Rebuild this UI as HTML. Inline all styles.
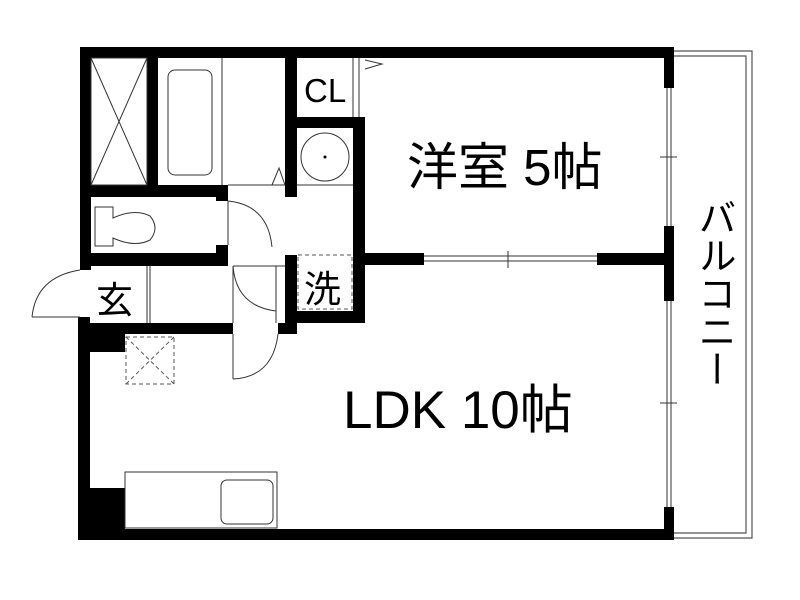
<!DOCTYPE html>
<html><head><meta charset="utf-8"><style>
html,body{margin:0;padding:0;background:#fff;}
svg{display:block}
text{font-family:"Liberation Sans","Noto Sans CJK JP",sans-serif;fill:#000}
</style></head><body>
<svg width="800" height="600" viewBox="0 0 800 600" xmlns="http://www.w3.org/2000/svg">
<path d="M674 51 H752 V538 H674" fill="none" stroke="#555" stroke-width="1.2"/>
<path d="M674 56 H746 V533 H674" fill="none" stroke="#555" stroke-width="1.2"/>
<g fill="#000">
<rect x="80" y="47" width="594" height="11"/>
<rect x="80" y="47" width="11" height="223"/>
<rect x="78" y="317" width="12" height="223"/>
<rect x="78" y="529" width="596" height="11"/>
<rect x="664" y="47" width="10" height="41"/>
<rect x="664" y="226" width="10" height="75"/>
<rect x="664" y="507" width="10" height="33"/>
<rect x="285" y="47" width="12" height="150"/>
<rect x="297" y="117" width="68" height="11"/>
<rect x="353" y="117" width="12" height="206"/>
<rect x="365" y="253" width="59" height="12"/>
<rect x="597" y="253" width="67" height="12"/>
<rect x="147" y="58" width="11" height="127"/>
<rect x="80" y="185" width="148" height="12"/>
<rect x="216" y="185" width="12" height="16"/>
<rect x="80" y="253" width="148" height="13"/>
<rect x="216" y="245" width="12" height="21"/>
<rect x="285" y="255" width="12" height="78"/>
<rect x="285" y="311" width="80" height="12"/>
<rect x="78" y="323" width="155" height="11"/>
<rect x="278" y="323" width="19" height="11"/>
<rect x="78" y="323" width="47" height="29"/>
<rect x="78" y="488" width="47" height="52"/>
</g>
<g fill="none" stroke="#333" stroke-width="1">
<line x1="667" y1="88" x2="667" y2="226"/><line x1="671" y1="88" x2="671" y2="226"/>
<line x1="660" y1="157" x2="677" y2="157"/>
<line x1="667" y1="301" x2="667" y2="507"/><line x1="671" y1="301" x2="671" y2="507"/>
<line x1="660" y1="403" x2="677" y2="403"/>
<line x1="424" y1="256" x2="597" y2="256"/><line x1="424" y1="261" x2="597" y2="261"/>
<line x1="508" y1="251" x2="508" y2="268"/>
<rect x="91" y="58" width="56" height="127"/>
<line x1="91" y1="58" x2="147" y2="185"/><line x1="147" y1="58" x2="91" y2="185"/>
<rect x="168" y="70" width="44" height="105" rx="7"/>
<line x1="222" y1="58" x2="222" y2="185"/>
<line x1="228" y1="185" x2="285" y2="185"/>
<path d="M272 185 L279 168 L285 185"/>
<line x1="353" y1="58" x2="353" y2="117"/><line x1="359" y1="58" x2="359" y2="117"/>
<path d="M365 60 L382 64 L365 69"/>
<circle cx="325" cy="157" r="24"/>
<line x1="297" y1="185" x2="353" y2="185"/>
<path d="M95 207 H113 V218 Q135 208 150 216 Q160 228 150 240 Q135 248 113 238 V246 H95 Z"/>
<line x1="228" y1="201" x2="228" y2="245"/>
<path d="M228 201 Q268 205 272 247"/>
<line x1="147" y1="266" x2="147" y2="323"/><line x1="150" y1="266" x2="150" y2="323"/>
<line x1="233" y1="266" x2="285" y2="266"/>
<line x1="233" y1="266" x2="233" y2="323"/>
<path d="M233 266 Q236 306 276 311"/>
<line x1="276" y1="266" x2="276" y2="323"/>
<line x1="233" y1="334" x2="233" y2="379"/>
<path d="M233 379 Q273 377 278 334"/>
<path d="M32 317 Q36 277 80 270"/>
<line x1="32" y1="317" x2="80" y2="317"/>
<rect x="125" y="472" width="152" height="56"/>
<rect x="221" y="480" width="52" height="44" rx="6"/>
</g>
<g fill="none" stroke="#555" stroke-width="1" stroke-dasharray="4,3">
<rect x="298" y="255" width="54" height="54"/>
<rect x="126" y="337" width="48" height="47"/>
<line x1="126" y1="337" x2="174" y2="384"/><line x1="174" y1="337" x2="126" y2="384"/>
</g>
<circle cx="325" cy="157" r="1.5" fill="#000"/>
<text x="304" y="102" font-size="33">CL</text>
<text x="304" y="302" font-size="37">洗</text>
<text x="96" y="313" font-size="37">玄</text>
<text x="407" y="185" font-size="51">洋室 5帖</text>
<text x="343" y="428" font-size="53">LDK 10帖</text>
<text x="713" y="198" font-size="38" style="writing-mode:vertical-rl">バルコニー</text>
</svg>
</body></html>
